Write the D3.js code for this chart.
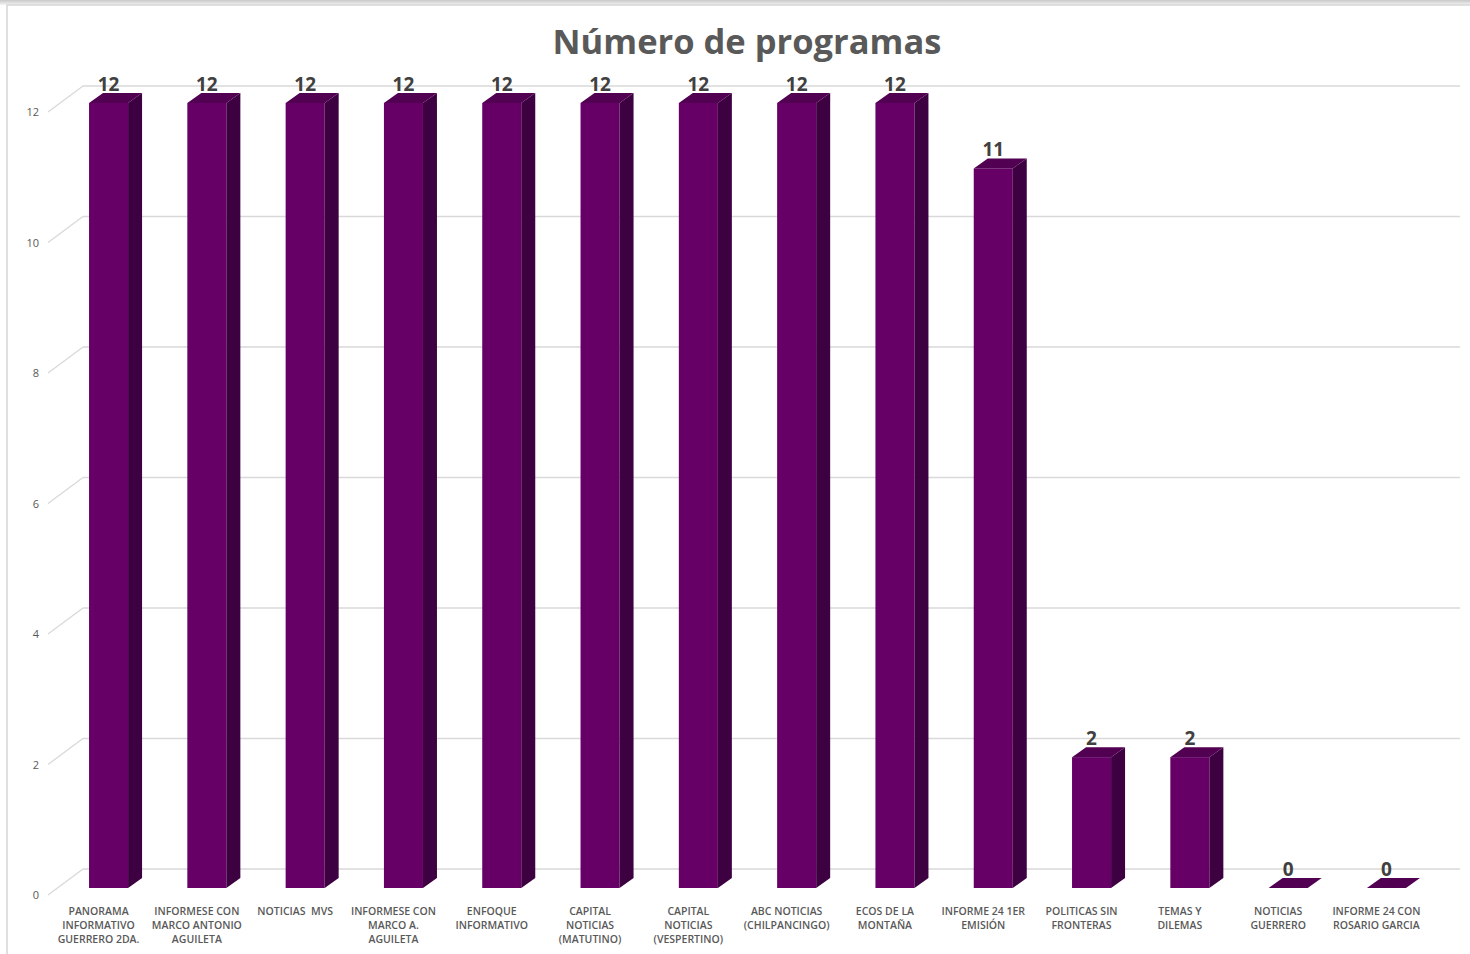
<!DOCTYPE html>
<html>
<head>
<meta charset="utf-8">
<script src="https://cdn.jsdelivr.net/npm/d3@7"></script>
<style>
  body { margin: 0; background: #fff; }
  svg { display: block; }
  .catlabel { font-family: "Open Sans", sans-serif; font-size: 10.5px; font-weight: 600; fill: #595959; }
  .ytick text { font-family: "Open Sans", sans-serif; font-size: 11px; fill: #595959; }
</style>
</head>
<body>
<div id="chart"></div>
<script>
// data
var categories = [
  "PANORAMA INFORMATIVO GUERRERO 2DA.",
  "INFORMESE CON MARCO ANTONIO AGUILETA",
  "NOTICIAS  MVS",
  "INFORMESE CON MARCO A. AGUILETA",
  "ENFOQUE INFORMATIVO",
  "CAPITAL NOTICIAS (MATUTINO)",
  "CAPITAL NOTICIAS (VESPERTINO)",
  "ABC NOTICIAS (CHILPANCINGO)",
  "ECOS DE LA MONTAÑA",
  "INFORME 24 1ER EMISIÓN",
  "POLITICAS SIN FRONTERAS",
  "TEMAS Y DILEMAS",
  "NOTICIAS GUERRERO",
  "INFORME 24 CON ROSARIO GARCIA"
];
// how each label wraps in the original
var labelLines = [
  ["PANORAMA", "INFORMATIVO", "GUERRERO 2DA."],
  ["INFORMESE CON", "MARCO ANTONIO", "AGUILETA"],
  ["NOTICIAS  MVS"],
  ["INFORMESE CON", "MARCO A.", "AGUILETA"],
  ["ENFOQUE", "INFORMATIVO"],
  ["CAPITAL", "NOTICIAS", "(MATUTINO)"],
  ["CAPITAL", "NOTICIAS", "(VESPERTINO)"],
  ["ABC NOTICIAS", "(CHILPANCINGO)"],
  ["ECOS DE LA", "MONTAÑA"],
  ["INFORME 24 1ER", "EMISIÓN"],
  ["POLITICAS SIN", "FRONTERAS"],
  ["TEMAS Y", "DILEMAS"],
  ["NOTICIAS", "GUERRERO"],
  ["INFORME 24 CON", "ROSARIO GARCIA"]
];
var values = [12, 12, 12, 12, 12, 12, 12, 12, 12, 11, 2, 2, 0, 0];
var yTicks = [0, 2, 4, 6, 8, 10, 12];

var width = 1470, height = 954;
var depthX = 14, depthY = -10;       // bar depth
var wallX = 35, wallY = -26;         // floor/wall depth for the grid

var svg = d3.select("#chart").append("svg")
  .attr("width", width)
  .attr("height", height);

// frame with a soft shadow at the top
var grad = svg.append("defs").append("linearGradient")
  .attr("id", "topshade").attr("x1", 0).attr("y1", 0).attr("x2", 0).attr("y2", 1);
grad.append("stop").attr("offset", "0%").attr("stop-color", "#c8c8c8");
grad.append("stop").attr("offset", "100%").attr("stop-color", "#f4f4f4");
svg.append("rect").attr("x", 0).attr("y", 0).attr("width", width).attr("height", 5)
  .attr("fill", "url(#topshade)");
svg.append("rect").attr("x", 7).attr("y", 5).attr("width", width).attr("height", height)
  .attr("fill", "#fff").attr("stroke", "#d6d6d6").attr("stroke-width", 1.5);

var x = d3.scaleBand()
  .domain(categories)
  .range([59.4, 1435.6])
  .paddingInner(0.603)
  .paddingOuter(0.3015);

// bar front face scale
var y = d3.scaleLinear().domain([0, 12]).range([888, 103]);
// front plane scale for the axis labels
var yFront = d3.scaleLinear().domain([0, 12]).range([895, 112]);

// gridlines: diagonal on the left wall, then across the back
var grid = svg.append("g");
grid.selectAll("line.diag")
  .data(yTicks)
  .join("line")
    .attr("class", "diag")
    .attr("x1", 48)
    .attr("y1", function(d){ return yFront(d); })
    .attr("x2", 48 + wallX)
    .attr("y2", function(d){ return yFront(d) + wallY; })
    .attr("stroke", "#d9d9d9")
    .attr("stroke-width", 1.3);
grid.selectAll("line.back")
  .data(yTicks)
  .join("line")
    .attr("class", "back")
    .attr("x1", 48 + wallX)
    .attr("y1", function(d){ return yFront(d) + wallY; })
    .attr("x2", 1460)
    .attr("y2", function(d){ return yFront(d) + wallY; })
    .attr("stroke", "#d9d9d9")
    .attr("stroke-width", 1.3);

// y axis labels
var yAxis = svg.append("g")
  .attr("class", "ytick")
  .attr("transform", "translate(39,0)")
  .call(d3.axisLeft(yFront).tickValues(yTicks).tickSize(0).tickPadding(0));
yAxis.select(".domain").remove();

// bars
var bars = svg.append("g").selectAll("g")
  .data(values)
  .join("g");

bars.each(function(v, i){
  var g = d3.select(this);
  var x0 = x(categories[i]);
  var x1 = x0 + x.bandwidth();
  var yt = y(v), yb = y(0);
  if (v > 0) {
    // front
    g.append("rect")
      .attr("x", x0).attr("y", yt)
      .attr("width", x.bandwidth()).attr("height", yb - yt)
      .attr("fill", "#660066");
    // side
    g.append("path")
      .attr("d", "M" + x1 + "," + yt + "L" + (x1 + depthX) + "," + (yt + depthY) +
                 "L" + (x1 + depthX) + "," + (yb + depthY) + "L" + x1 + "," + yb + "Z")
      .attr("fill", "#3d0040");
  }
  // top
  g.append("path")
    .attr("d", "M" + x0 + "," + yt + "L" + (x0 + depthX) + "," + (yt + depthY) +
               "L" + (x1 + depthX) + "," + (yt + depthY) + "L" + x1 + "," + yt + "Z")
    .attr("fill", "#520052");
});

// value labels
svg.append("g").selectAll("text")
  .data(values)
  .join("text")
    .attr("x", function(d, i){ return x(categories[i]) + x.bandwidth() / 2; })
    .attr("y", function(d){ return y(d) + depthY - 2; })
    .attr("text-anchor", "middle")
    .style("font-family", "'Open Sans', sans-serif")
    .style("font-size", "19px")
    .style("font-weight", "700")
    .style("fill", "#404040")
    .text(function(d){ return d; });

// category labels
var cat = svg.append("g").selectAll("text")
  .data(categories)
  .join("text")
    .attr("class", "catlabel")
    .attr("text-anchor", "middle")
    .attr("y", 915);
cat.each(function(c, i){
  var t = d3.select(this);
  var cx = x(c) + x.bandwidth() / 2 - 10;
  labelLines[i].forEach(function(line, k){
    t.append("tspan")
      .attr("x", cx)
      .attr("dy", k === 0 ? 0 : 14)
      .attr("xml:space", "preserve")
      .text(line);
  });
});

// title
svg.append("text")
  .attr("x", 747)
  .attr("y", 54)
  .attr("text-anchor", "middle")
  .style("font-family", "'Open Sans', sans-serif")
  .style("font-size", "34.5px")
  .style("font-weight", "700")
  .style("fill", "#595959")
  .text("Número de programas");
</script>
</body>
</html>
